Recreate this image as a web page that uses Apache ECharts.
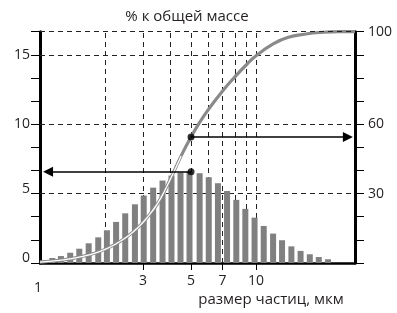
<!DOCTYPE html>
<html><head><meta charset="utf-8">
<script src="https://cdn.jsdelivr.net/npm/echarts@6/dist/echarts.min.js"></script>
<style>html,body{margin:0;padding:0;background:#fff}#c{width:397px;height:313px}</style>
</head><body><div id="c"></div>
<script>
// particle size bins (µm) and share of total mass (%) per bin
const sizes = [1.03, 1.14, 1.25, 1.38, 1.52, 1.68, 1.86, 2.04, 2.25, 2.48, 2.75, 3.02, 3.34, 3.69, 4.06, 4.47, 4.92, 5.48, 6.04, 6.66, 7.34, 8.10, 8.92, 9.84, 10.85, 11.99, 13.19, 14.57, 16.07, 17.73, 19.51, 21.54];
const shares = [0.2, 0.36, 0.5, 0.74, 1.03, 1.42, 1.85, 2.36, 2.96, 3.58, 4.23, 4.86, 5.43, 5.94, 6.3, 6.52, 6.57, 6.47, 6.18, 5.75, 5.19, 4.55, 3.9, 3.27, 2.67, 2.12, 1.64, 1.2, 0.87, 0.63, 0.43, 0.27];
// cumulative curve (% of mass, right axis)
const cumX = [1.0, 1.2, 1.4, 1.6, 1.8, 2.0, 2.2, 2.5, 2.8, 3.0, 3.3, 3.6, 4.0, 4.5, 5.0, 5.5, 6.0, 7.0, 8.0, 9.0, 10.0, 12.0, 14.0, 17.0, 20.0, 24.5, 28.7];
const cumY = [0.4, 1.0, 1.9, 3.0, 4.3, 5.9, 7.8, 11.0, 14.8, 17.6, 22.3, 27.6, 36.0, 46.3, 54.5, 61, 66.2, 74.4, 80.6, 85.6, 89.6, 94.7, 97.5, 99.0, 99.7, 100, 100];
const xLabels = [1, 3, 5, 7, 10];
const xTicks = [3, 5, 7, 10];
const vGrid = [2, 3, 4, 5, 6, 7, 8, 9, 10];
const hGridLeft = [5, 10, 15];
const hGridRight = [100];
const leftLabels = [0, 5, 10, 15];
const leftRaised = [0, 5];
const rightLabels = [30, 60, 100];
const refSize = 5;
const refShare = 6.57;
const refCum = 54.5;
const xMax = 28.7;
const arrowRightEnd = 26.6;
const arrowLeftEnd = 1.09;
const whiteCoreUntil = 4.5;

const FONT = 'Open Sans';
const INK = '#231f20';
const dash = {type: [5, 4], color: '#222', width: 1};
const chart = echarts.init(document.getElementById('c'), null, {renderer: 'canvas'});

const curve = cumX.map((x, i) => [x, cumY[i]]);
const curveLow = curve.filter(p => p[0] <= whiteCoreUntil);

const arrowML = (from, to) => ({
  silent: true, animation: false, symbol: ['none', 'triangle'], symbolSize: 10,
  label: {show: false}, lineStyle: {type: 'solid', color: '#000', width: 1.5},
  data: [[{coord: from, symbol: 'none'}, {coord: to, symbol: 'triangle', symbolSize: 10}]]
});

chart.setOption({
  animation: false,
  grid: {left: 40, right: 42, top: 31.7, bottom: 50},
  xAxis: {
    type: 'log', logBase: 10, min: 1, max: xMax,
    axisLine: {show: true, onZero: false, lineStyle: {color: '#000', width: 2.5}},
    axisTick: {show: true, customValues: xTicks, length: 7, lineStyle: {color: '#000', width: 1}},
    axisLabel: {
      customValues: xLabels, margin: 11, fontFamily: FONT, fontSize: 14, color: INK,
      formatter: v => (Math.abs(v - 1) < 1e-9 ? '{a|1}' : String(Math.round(v))),
      rich: {a: {fontFamily: FONT, fontSize: 14, color: INK, padding: [7, 4, 0, 0]}}
    },
    splitLine: {show: false}, minorTick: {show: false}, minorSplitLine: {show: false}
  },
  yAxis: [{
    type: 'value', min: 0, max: 100 / 6, interval: 100 / 60, position: 'left',
    axisLine: {show: true, lineStyle: {color: '#000', width: 3}},
    axisTick: {show: true, length: 9, lineStyle: {color: '#000', width: 1}},
    axisLabel: {
      margin: 10, fontFamily: FONT, fontSize: 14, color: INK,
      formatter: v => {
        const r = Math.round(v);
        if (Math.abs(v - r) > 1e-6 || !leftLabels.includes(r)) return '';
        return leftRaised.includes(r) ? '{u|' + r + '}' : String(r);
      },
      rich: {u: {fontFamily: FONT, fontSize: 14, color: INK, padding: [0, 0, 10, 0]}}
    },
    splitLine: {show: false}
  }, {
    type: 'value', min: 0, max: 100, interval: 10, position: 'right',
    axisLine: {show: true, lineStyle: {color: '#000', width: 3}},
    axisTick: {show: true, length: 9, lineStyle: {color: '#000', width: 1}},
    axisLabel: {
      margin: 13, fontFamily: FONT, fontSize: 14, color: INK,
      formatter: v => (rightLabels.includes(Math.round(v)) ? String(Math.round(v)) : '')
    },
    splitLine: {show: false}
  }],
  graphic: [
    {type: 'text', x: 187, y: 17, style: {text: '% к общей массе', font: '15px "' + FONT + '"', fill: INK, textAlign: 'center', textVerticalAlign: 'middle'}},
    {type: 'text', x: 271, y: 300, style: {text: 'размер частиц, мкм', font: '15px "' + FONT + '"', fill: INK, textAlign: 'center', textVerticalAlign: 'middle'}}
  ],
  series: [{
    type: 'bar', yAxisIndex: 0, barWidth: 6, z: 2,
    data: sizes.map((s, i) => [s, shares[i]]),
    itemStyle: {color: '#808080'},
    markLine: {
      silent: true, symbol: 'none', animation: false, z: 1,
      label: {show: false}, lineStyle: dash,
      data: vGrid.map(v => ({xAxis: v})).concat(hGridLeft.map(v => ({yAxis: v})))
    }
  }, {
    type: 'line', yAxisIndex: 1, z: 3, smooth: true, showSymbol: false,
    data: curve, lineStyle: {color: '#8a8a8a', width: 3.2},
    markLine: {
      silent: true, symbol: 'none', animation: false,
      label: {show: false}, lineStyle: dash,
      data: hGridRight.map(v => ({yAxis: v}))
    }
  }, {
    type: 'line', yAxisIndex: 1, z: 4, smooth: true, showSymbol: false,
    data: curveLow, lineStyle: {color: '#fff', width: 1.3}
  }, {
    type: 'scatter', yAxisIndex: 1, z: 6, symbolSize: 7, itemStyle: {color: '#000'},
    data: [[refSize, refCum]],
    markLine: arrowML([refSize, refCum], [arrowRightEnd, refCum])
  }, {
    type: 'scatter', yAxisIndex: 0, z: 6, symbolSize: 7, itemStyle: {color: '#000'},
    data: [[refSize, refShare]],
    markLine: arrowML([refSize, refShare], [arrowLeftEnd, refShare])
  }]
});
</script></body></html>
